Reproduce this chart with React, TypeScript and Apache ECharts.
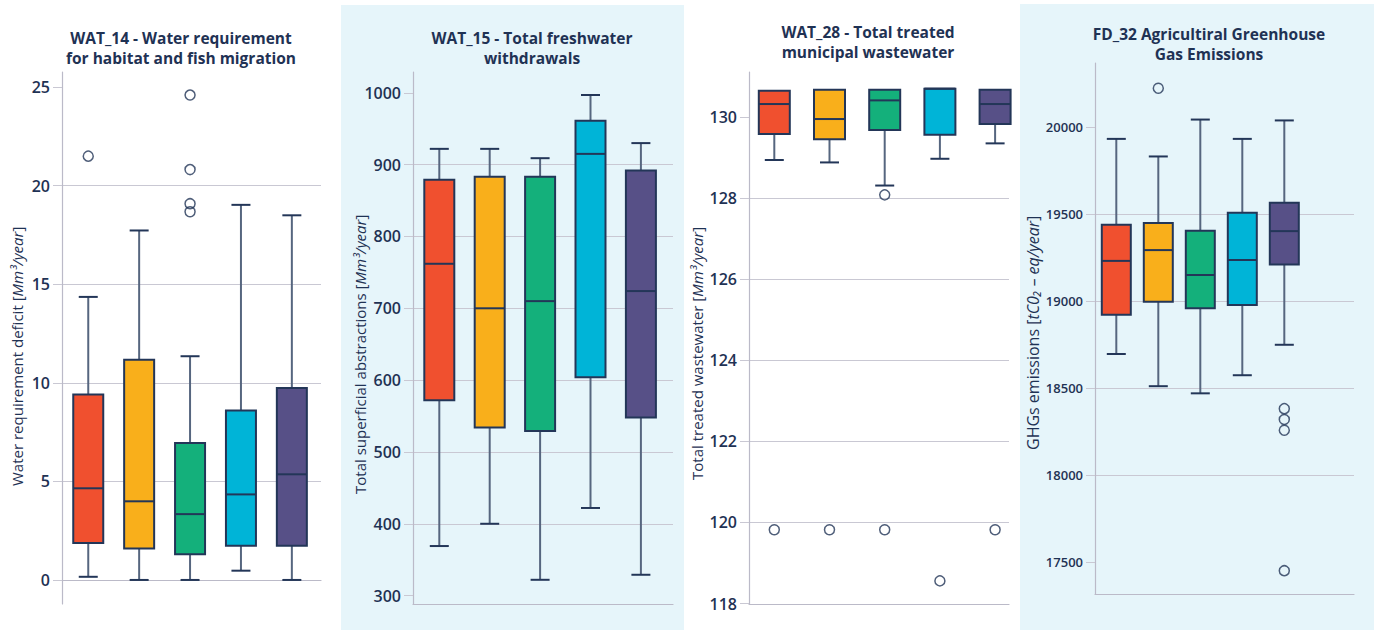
import React, { useEffect, useRef } from 'react';
import * as echarts from 'echarts';

// ---------- DATA ----------
const scenarios = ['Scenario 1', 'Scenario 2', 'Scenario 3', 'Scenario 4', 'Scenario 5'];
const boxColors = ['#F0502F', '#F9AF1B', '#14B07B', '#00B4D7', '#575087'];

// each box: [min, Q1, median, Q3, max]
const wat14Boxes = [
  [0.16, 1.87, 4.65, 9.41, 14.36],
  [0, 1.59, 3.99, 11.17, 17.73],
  [0, 1.3, 3.34, 6.95, 11.35],
  [0.47, 1.73, 4.34, 8.6, 19.03],
  [0, 1.73, 5.36, 9.74, 18.5],
];
const wat14Outliers = [[0, 21.5], [2, 24.6], [2, 20.82], [2, 19.09], [2, 18.68]];
const wat14Ticks = [0, 5, 10, 15, 20, 25];

const wat15Boxes = [
  [369, 572, 762, 879, 922],
  [400, 534, 700, 883, 922],
  [322, 529, 710, 883, 909],
  [422, 604, 915, 961, 997],
  [329, 548, 724, 892, 930],
];
const wat15Outliers: number[][] = [];
const wat15Ticks = [300, 400, 500, 600, 700, 800, 900, 1000];

const wat28Boxes = [
  [128.94, 129.58, 130.32, 130.65, 130.65],
  [128.88, 129.45, 129.95, 130.67, 130.67],
  [128.31, 129.68, 130.41, 130.67, 130.67],
  [128.97, 129.56, 130.7, 130.7, 130.7],
  [129.35, 129.83, 130.32, 130.67, 130.67],
];
const wat28Outliers = [[0, 119.82], [1, 119.82], [2, 128.08], [2, 119.82], [3, 118.56], [4, 119.82]];
const wat28Ticks = [118, 120, 122, 124, 126, 128, 130];

const fd32Boxes = [
  [18697, 18923, 19232, 19440, 19933],
  [18512, 18997, 19294, 19449, 19832],
  [18471, 18960, 19151, 19405, 20044],
  [18575, 18978, 19237, 19509, 19933],
  [18750, 19211, 19403, 19566, 20039],
];
const fd32Outliers = [[1, 20224], [4, 18383], [4, 18321], [4, 18259], [4, 17452]];
const fd32Ticks = [17500, 18000, 18500, 19000, 19500, 20000];

// ---------- STYLE / LAYOUT ----------
const FONT = '"Open Sans", "Noto Sans", sans-serif';
const TEXT = '#1f3254';
const BOX_STROKE = '#233658';
const WHISKER = '#56667f';
const GRID_LINE = '#c9c8d3';
const AXIS_LINE = '#bbbac8';
const PANEL_BG = '#E6F5FA';

const panels = [
  {
    title: 'WAT_14 - Water requirement\nfor habitat and fish migration',
    titleX: 181, titleTop: 28,
    frame: { left: 62, top: 72, width: 259, height: 532 },
    boxLeft: 62.8, boxWidthTotal: 254.5, boxW: 30,
    yMin: -1.22, yMax: 25.77, interval: 5,
    ticks: wat14Ticks, boxes: wat14Boxes, outliers: wat14Outliers,
    nameMain: 'Water requirement deficit [', nameItal: 'Mm³/year', nameEnd: ']',
    nameX: 16.5, nameStartY: 486, nameSize: 15, labelSize: 16,
  },
  {
    title: 'WAT_15 - Total freshwater\nwithdrawals',
    titleX: 532, titleTop: 28,
    frame: { left: 413, top: 72, width: 260, height: 532 },
    boxLeft: 414.1, boxWidthTotal: 252, boxW: 30,
    yMin: 288.3, yMax: 1029, interval: 100,
    ticks: wat15Ticks, boxes: wat15Boxes, outliers: wat15Outliers,
    nameMain: 'Total superficial abstractions [', nameItal: 'Mm³/year', nameEnd: ']',
    nameX: 360, nameStartY: 494, nameSize: 15, labelSize: 16,
  },
  {
    title: 'WAT_28 - Total treated\nmunicipal wastewater',
    titleX: 868, titleTop: 22,
    frame: { left: 749, top: 72, width: 260, height: 532 },
    boxLeft: 746.7, boxWidthTotal: 276, boxW: 31,
    yMin: 117.99, yMax: 131.11, interval: 2,
    ticks: wat28Ticks, boxes: wat28Boxes, outliers: wat28Outliers,
    nameMain: 'Total treated wastewater [', nameItal: 'Mm³/year', nameEnd: ']',
    nameX: 697, nameStartY: 480, nameSize: 15, labelSize: 16,
  },
  {
    title: 'FD_32 Agricultiral Greenhouse\nGas Emissions',
    titleX: 1209, titleTop: 24,
    frame: { left: 1095, top: 63, width: 259, height: 531 },
    boxLeft: 1095.3, boxWidthTotal: 210, boxW: 29,
    yMin: 17318, yMax: 20369, interval: 500,
    ticks: fd32Ticks, boxes: fd32Boxes, outliers: fd32Outliers,
    nameMain: 'GHGs emissions [', nameItal: 'tC0₂ – eq/year', nameEnd: ']',
    nameX: 1033, nameStartY: 450, nameSize: 16, labelSize: 13,
  },
];

function buildOption() {
  const grid: any[] = [];
  const xAxis: any[] = [];
  const yAxis: any[] = [];
  const series: any[] = [];
  const title: any[] = [];
  const graphics: any[] = [
    { type: 'rect', z: -10, silent: true, shape: { x: 341, y: 5, width: 343, height: 625 }, style: { fill: PANEL_BG } },
    { type: 'rect', z: -10, silent: true, shape: { x: 1020, y: 4, width: 354, height: 626 }, style: { fill: PANEL_BG } },
  ];

  panels.forEach((p, i) => {
    const fi = 2 * i;
    const bi = 2 * i + 1;
    grid.push({ left: p.frame.left, top: p.frame.top, width: p.frame.width, height: p.frame.height });
    grid.push({ left: p.boxLeft, top: p.frame.top, width: p.boxWidthTotal, height: p.frame.height });

    title.push({
      text: p.title,
      left: p.titleX,
      top: p.titleTop,
      textAlign: 'center',
      padding: 0,
      textStyle: { fontFamily: FONT, fontSize: 15.5, fontWeight: 'bold', color: TEXT, lineHeight: 20 },
    });

    graphics.push({
      type: 'text',
      x: p.nameX,
      y: p.nameStartY,
      rotation: Math.PI / 2,
      silent: true,
      z: 5,
      style: {
        text: `{n|${p.nameMain}}{i|${p.nameItal}}{n|${p.nameEnd}}`,
        align: 'left',
        verticalAlign: 'middle',
        rich: {
          n: { fontFamily: FONT, fontSize: p.nameSize, fill: TEXT, color: TEXT },
          i: { fontFamily: FONT, fontSize: p.nameSize, fill: TEXT, color: TEXT, fontStyle: 'italic' },
        },
      },
    });

    xAxis.push({
      type: 'category', gridIndex: fi, data: scenarios,
      axisLine: { show: true, lineStyle: { color: AXIS_LINE, width: 1.2 } },
      axisTick: { show: false }, axisLabel: { show: false }, splitLine: { show: false },
    });
    xAxis.push({ type: 'category', gridIndex: bi, data: scenarios, show: false });

    yAxis.push({
      type: 'value', gridIndex: fi,
      min: p.yMin, max: p.yMax,
      minInterval: p.interval, maxInterval: p.interval, splitNumber: 5,
      axisLine: { show: true, lineStyle: { color: AXIS_LINE, width: 1.2 } },
      axisTick: { show: true, length: 9, lineStyle: { color: GRID_LINE }, customValues: p.ticks },
      axisLabel: {
        show: true, margin: 12, customValues: p.ticks,
        fontFamily: FONT, fontSize: p.labelSize, color: TEXT, fontWeight: 600,
        formatter: (v: number) => String(v),
      },
      splitLine: { show: true, showMinLine: false, showMaxLine: false, lineStyle: { color: GRID_LINE, width: 1 } },
    });
    yAxis.push({ type: 'value', gridIndex: bi, min: p.yMin, max: p.yMax, show: false });

    const boxW = p.boxW;
    const capW = 19;
    series.push({
      type: 'custom',
      xAxisIndex: bi, yAxisIndex: bi,
      encode: { x: 0, y: [1, 2, 3, 4, 5] },
      data: p.boxes.map((b, k) => [k, ...b]),
      clip: false,
      z: 3,
      renderItem: (params: any, api: any) => {
        const k = api.value(0);
        const vMin = api.value(1), vQ1 = api.value(2), vMed = api.value(3), vQ3 = api.value(4), vMax = api.value(5);
        const [cx, yMin] = api.coord([k, vMin]);
        const yQ1 = api.coord([k, vQ1])[1];
        const yMed = api.coord([k, vMed])[1];
        const yQ3 = api.coord([k, vQ3])[1];
        const yMax = api.coord([k, vMax])[1];
        const hw = boxW / 2;
        const hc = capW / 2;
        const children: any[] = [];
        if (vMax > vQ3) {
          children.push({ type: 'line', shape: { x1: cx, y1: yQ3, x2: cx, y2: yMax }, style: { stroke: WHISKER, lineWidth: 2 } });
          children.push({ type: 'line', shape: { x1: cx - hc, y1: yMax, x2: cx + hc, y2: yMax }, style: { stroke: BOX_STROKE, lineWidth: 2 } });
        }
        if (vMin < vQ1) {
          children.push({ type: 'line', shape: { x1: cx, y1: yQ1, x2: cx, y2: yMin }, style: { stroke: WHISKER, lineWidth: 2 } });
          children.push({ type: 'line', shape: { x1: cx - hc, y1: yMin, x2: cx + hc, y2: yMin }, style: { stroke: BOX_STROKE, lineWidth: 2 } });
        }
        children.push({
          type: 'rect',
          shape: { x: cx - hw, y: yQ3, width: boxW, height: yQ1 - yQ3 },
          style: { fill: boxColors[k], stroke: BOX_STROKE, lineWidth: 2 },
        });
        children.push({ type: 'line', shape: { x1: cx - hw, y1: yMed, x2: cx + hw, y2: yMed }, style: { stroke: BOX_STROKE, lineWidth: 2 } });
        return { type: 'group', children };
      },
    });
    if (p.outliers.length) {
      series.push({
        type: 'scatter',
        xAxisIndex: bi, yAxisIndex: bi,
        data: p.outliers,
        symbol: 'circle', symbolSize: 10,
        z: 4,
        itemStyle: { color: 'rgba(255,255,255,0)', borderColor: BOX_STROKE, borderWidth: 1.5 },
      });
    }
  });

  return {
    animation: false,
    backgroundColor: '#ffffff',
    textStyle: { fontFamily: FONT },
    graphic: { elements: graphics },
    title,
    grid,
    xAxis,
    yAxis,
    series,
  };
}

const App = () => {
  const ref = useRef<HTMLDivElement>(null);
  useEffect(() => {
    const chart = echarts.init(ref.current!, null, { renderer: 'svg' });
    chart.setOption(buildOption() as any);
    return () => chart.dispose();
  }, []);
  return <div ref={ref} style={{ position: 'fixed', left: 0, top: 0, width: 1379, height: 630 }} />;
};

export default App;
